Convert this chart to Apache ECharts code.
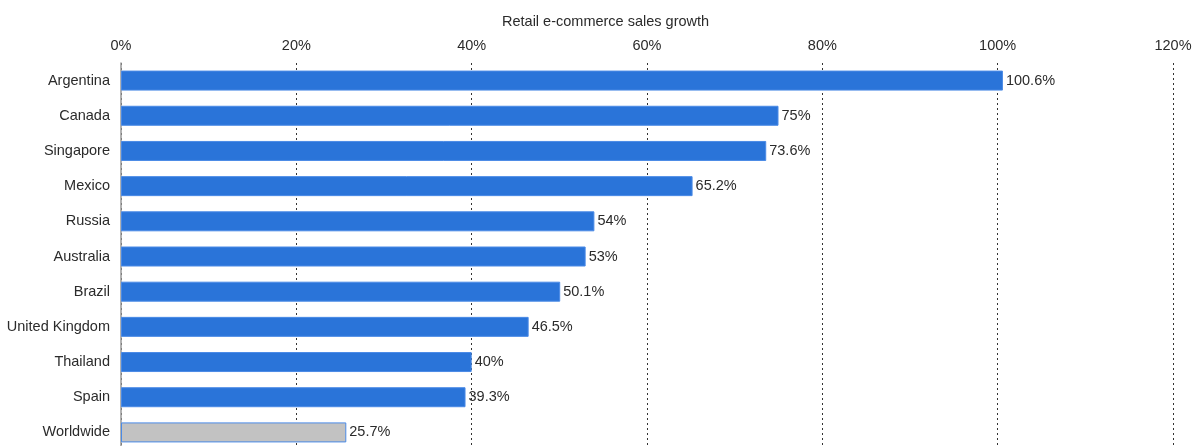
<!DOCTYPE html>
<html>
<head>
<meta charset="utf-8">
<script src="https://cdn.jsdelivr.net/npm/echarts@6/dist/echarts.min.js"></script>
<style>
  html, body { margin: 0; padding: 0; background: #fff; overflow: hidden; }
  #chart { width: 1198px; height: 456px; }
</style>
</head>
<body>
<div id="chart"></div>
<script>
// Retail e-commerce sales growth by country
const countries = ['Argentina', 'Canada', 'Singapore', 'Mexico', 'Russia', 'Australia',
  'Brazil', 'United Kingdom', 'Thailand', 'Spain', 'Worldwide'];
const growth = [100.6, 75, 73.6, 65.2, 54, 53, 50.1, 46.5, 40, 39.3, 25.7];
const axisTitle = 'Retail e-commerce sales growth';

const BLUE = '#2a74d9';
const GREY = '#c2c2c2';
const FONT = '"Liberation Sans", Arial, sans-serif';
const FS = 14.5;

const chart = echarts.init(document.getElementById('chart'));
chart.setOption({
  animation: false,
  backgroundColor: '#fff',
  title: {
    text: axisTitle,
    left: 497,
    top: 9,
    textStyle: { fontFamily: FONT, fontSize: FS, fontWeight: 'normal', color: '#2b2b2b' }
  },
  grid: { left: 121, top: 63, width: 1052, height: 387, containLabel: false },
  xAxis: {
    type: 'value',
    position: 'top',
    min: 0,
    max: 120,
    interval: 20,
    axisLine: { show: false },
    axisTick: { show: false },
    axisLabel: {
      formatter: '{value}%',
      margin: 10,
      fontFamily: FONT, fontSize: FS, color: '#2b2b2b'
    },
    splitLine: {
      show: true,
      lineStyle: { color: '#333', type: [2, 3], width: 1 }
    }
  },
  yAxis: {
    type: 'category',
    inverse: true,
    data: countries,
    axisLine: { show: true, lineStyle: { color: '#999', width: 1.5 } },
    axisTick: { show: false },
    axisLabel: { margin: 11, fontFamily: FONT, fontSize: FS, color: '#2b2b2b' }
  },
  series: [{
    type: 'bar',
    barWidth: 20,
    data: growth.map((v, i) => ({
      value: v,
      itemStyle: {
        color: countries[i] === 'Worldwide' ? GREY : BLUE,
        borderColor: '#4a8ae6',
        borderWidth: 1
      }
    })),
    label: {
      show: true,
      position: 'right',
      distance: 3,
      formatter: p => p.value + '%',
      fontFamily: FONT, fontSize: FS, color: '#2b2b2b'
    }
  }]
});
</script>
</body>
</html>
